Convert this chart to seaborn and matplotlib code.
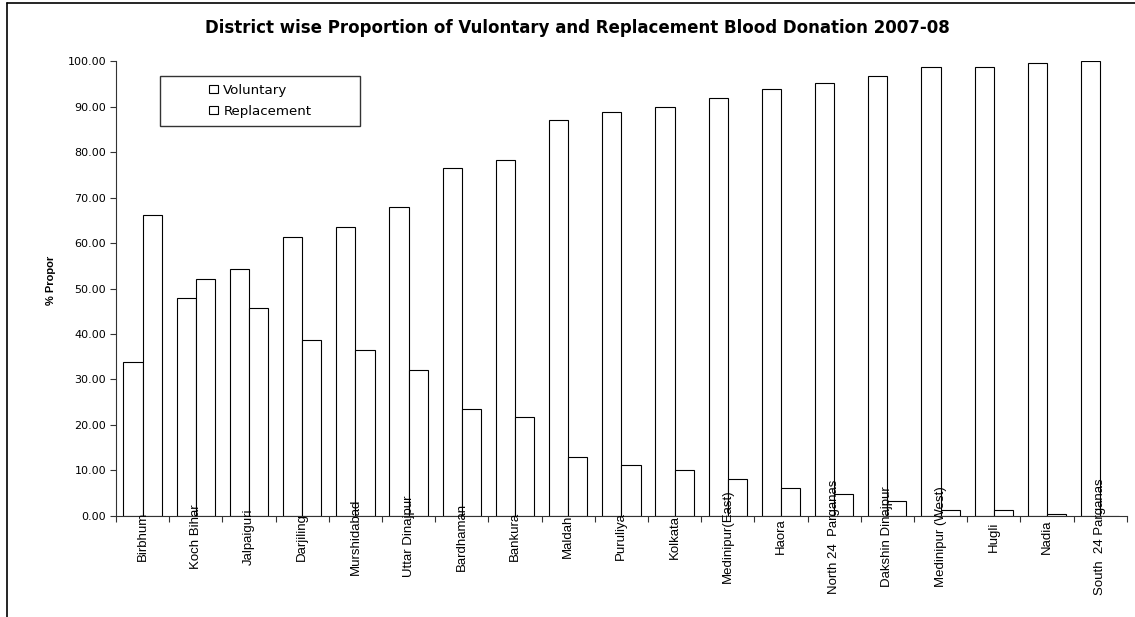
import matplotlib
matplotlib.use("Agg")
import matplotlib.pyplot as plt
from matplotlib.lines import Line2D
from matplotlib.patches import Rectangle, Patch
from matplotlib.ticker import FixedLocator, FormatStrFormatter
import seaborn as sns
import pandas as pd

districts = ["Birbhum", "Koch Bihar", "Jalpaiguri", "Darjiling", "Murshidabad",
             "Uttar Dinajpur", "Bardhaman", "Bankura", "Maldah", "Puruliya",
             "Kolkata", "Medinipur(East)", "Haora", "North 24  Parganas",
             "Dakshin Dinajpur", "Medinipur (West)", "Hugli", "Nadia",
             "South  24 Parganas"]
voluntary = [33.9, 48.0, 54.2, 61.3, 63.5, 68.0, 76.5, 78.3, 87.0, 88.9,
             89.9, 91.9, 93.8, 95.2, 96.8, 98.8, 98.8, 99.6, 100.0]
replacement = [66.1, 52.0, 45.8, 38.7, 36.5, 32.0, 23.5, 21.7, 13.0, 11.1,
               10.1, 8.1, 6.2, 4.8, 3.2, 1.2, 1.2, 0.4, 0.0]
series = ["Voluntary", "Replacement"]

df = pd.DataFrame({
    "District": districts * 2,
    "Type": [series[0]] * len(districts) + [series[1]] * len(districts),
    "Value": voluntary + replacement,
})

sns.set_theme(style="white")
plt.rcParams["font.family"] = ["DejaVu Sans"]
plt.rcParams.update({"text.color": "black", "xtick.color": "black",
                     "ytick.color": "black", "axes.labelcolor": "black"})
NARROW = ["Liberation Sans", "DejaVu Sans"]

W, H = 1135, 617
fig = plt.figure(figsize=(W / 100, H / 100), dpi=100)
ax = fig.add_axes([116 / W, 1 - 515.7 / H, (1126.7 - 116) / W, (515.7 - 61.3) / H])

sns.barplot(data=df, x="District", y="Value", hue="Type", hue_order=series,
            palette=["white", "white"], edgecolor="black", linewidth=0.8,
            width=0.72, gap=0, saturation=1, ax=ax, legend=False)

ax.set_axisbelow(False)
ax.set_ylim(0, 100)
ax.set_xlim(-0.5, len(districts) - 0.5)
ax.set_yticks(range(0, 101, 10))
ax.yaxis.set_major_formatter(FormatStrFormatter("%.2f"))
ax.tick_params(axis="y", length=4, width=0.8, color="#333333", labelsize=8,
               labelcolor="black", pad=3, left=True)

# category labels at centers, tick marks on category boundaries
ax.set_xticks(range(len(districts)))
ax.set_xticklabels(districts, family=NARROW)
ax.xaxis.set_minor_locator(FixedLocator([i - 0.5 for i in range(len(districts) + 1)]))
ax.tick_params(axis="x", which="major", length=0, pad=15, labelsize=9.5,
               labelcolor="black")
ax.tick_params(axis="x", which="minor", length=4, width=0.8, color="#333333",
               bottom=True, direction="out")
for lab in ax.get_xticklabels():
    lab.set_rotation(90)
    lab.set_rotation_mode("anchor")
    lab.set_ha("center")
    lab.set_va("center")

ax.set_xlabel("")
ax.set_ylabel("")
for side in ["top", "right"]:
    ax.spines[side].set_visible(False)
for side in ["left", "bottom"]:
    ax.spines[side].set_color("#333333")
    ax.spines[side].set_linewidth(0.8)
ax.grid(False)

# legend box
x0 = (160 - 116) / (1126.7 - 116)
x1 = (360 - 116) / (1126.7 - 116)
y1 = (515.7 - 75.7) / (515.7 - 61.3)
y0 = (515.7 - 125.7) / (515.7 - 61.3)
ax.add_patch(Rectangle((x0, y0), x1 - x0, y1 - y0, transform=ax.transAxes,
                       facecolor="white", edgecolor="#333333", linewidth=1.0,
                       zorder=5, clip_on=False))
handles = [Patch(facecolor="white", edgecolor="black", linewidth=0.8) for _ in series]
ax.legend(handles, series, loc="center", bbox_to_anchor=((x0 + x1) / 2, (y0 + y1) / 2),
          frameon=False, fontsize=9.6, handlelength=0.7, handleheight=0.55,
          handletextpad=0.4, labelspacing=0.6, labelcolor="black").set_zorder(6)

fig.text(577 / W, 1 - 28 / H,
         "District wise Proportion of Vulontary and Replacement Blood Donation 2007-08",
         ha="center", va="center", fontsize=12, fontweight="bold", color="black")
fig.text(51 / W, 1 - 280 / H, "% Propor", rotation=90, ha="center", va="center",
         fontsize=8, fontweight="bold", family=NARROW, color="black")

# chart area border
fig.add_artist(Line2D([6.5 / W, 6.5 / W], [0, 1 - 3 / H], color="black", linewidth=1.2))
fig.add_artist(Line2D([6.5 / W, 1], [1 - 3 / H, 1 - 3 / H], color="black", linewidth=1.2))

fig.savefig("out.png", dpi=100, facecolor="white")
